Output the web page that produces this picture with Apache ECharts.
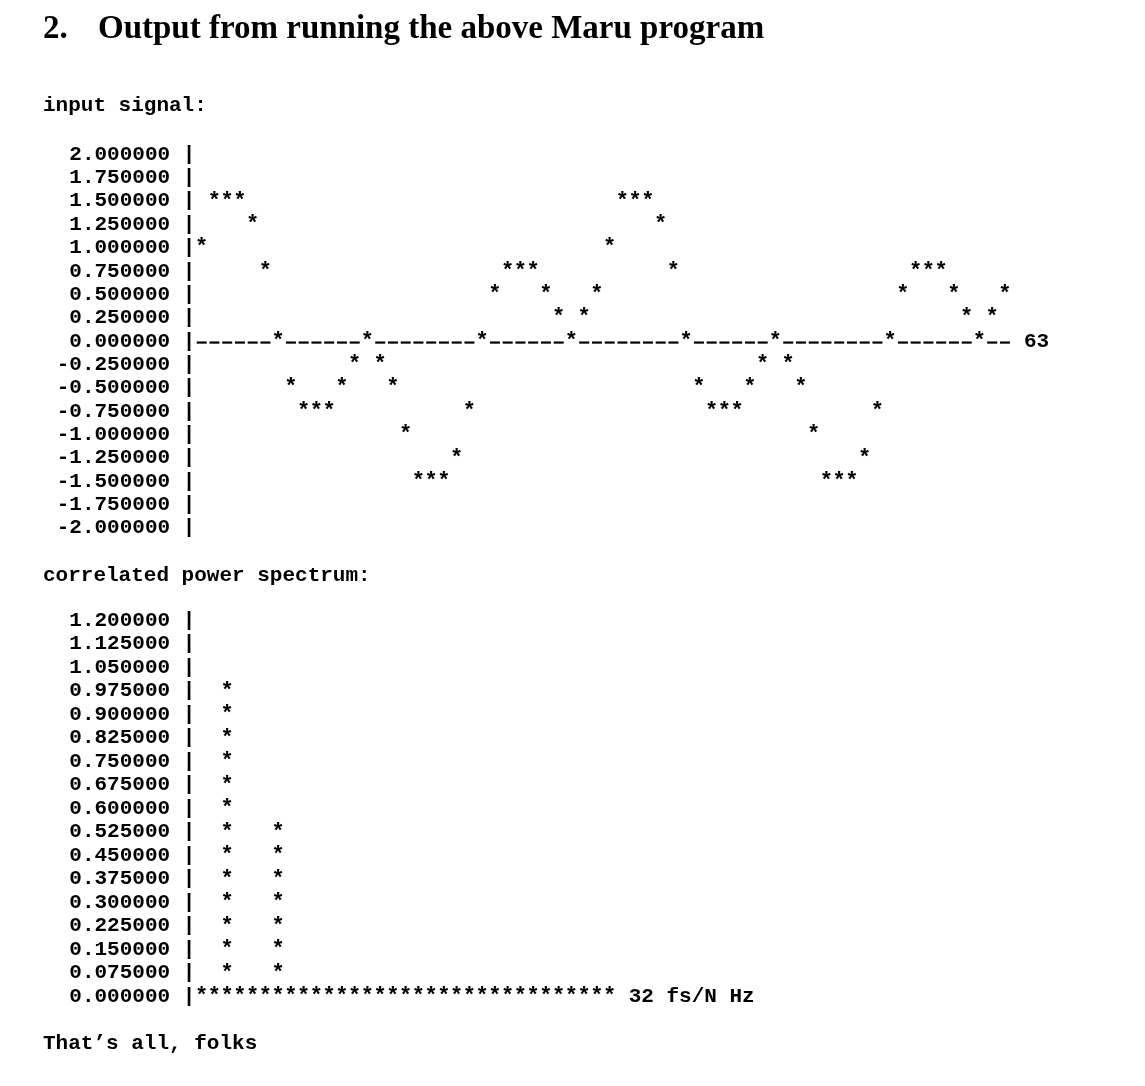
<!DOCTYPE html>
<html>
<head>
<meta charset="utf-8">
<script src="https://cdn.jsdelivr.net/npm/echarts@6/dist/echarts.min.js"></script>
<style>
html,body{margin:0;padding:0;background:#fff;}
#chart{width:1145px;height:1086px;}
</style>
</head>
<body>
<div id="chart"></div>
<script>
// ---- data ----
const headingNumber = '2.';
const headingText = 'Output from running the above Maru program';
const signalTitle = 'input signal:';
const spectrumTitle = 'correlated power spectrum:';
const footerText = 'That\u2019s all, folks';

// input signal samples 0..63 (quantised to the 0.25 rows of the plot)
const signalValues = [
  1.0, 1.5, 1.5, 1.5, 1.25, 0.75, 0, -0.5, -0.75, -0.75,
  -0.75, -0.5, -0.25, 0, -0.25, -0.5, -1.0, -1.5, -1.5, -1.5,
  -1.25, -0.75, 0, 0.5, 0.75, 0.75, 0.75, 0.5, 0.25, 0,
  0.25, 0.5, 1.0, 1.5, 1.5, 1.5, 1.25, 0.75, 0, -0.5,
  -0.75, -0.75, -0.75, -0.5, -0.25, 0, -0.25, -0.5, -1.0, -1.5,
  -1.5, -1.5, -1.25, -0.75, 0, 0.5, 0.75, 0.75, 0.75, 0.5,
  0.25, 0, 0.25, 0.5
];
const signalYMin = -2, signalYMax = 2, signalYStep = 0.25;

// correlated power spectrum bins 0..32
const spectrumValues = [
  0, 0, 1.0, 0, 0, 0, 0.53, 0, 0, 0,
  0, 0, 0, 0, 0, 0, 0, 0, 0, 0,
  0, 0, 0, 0, 0, 0, 0, 0, 0, 0,
  0, 0, 0
];
const spectrumYMin = 0, spectrumYMax = 1.2, spectrumYStep = 0.075;
const spectrumUnit = 'fs/N Hz';

// ---- styling ----
const MONO = '"Liberation Mono", "DejaVu Sans Mono", monospace';
const FS = 21;
const CELL = 12.75;
const monoFont = 'bold ' + FS + 'px ' + MONO;
const starFont = 'bold 22px ' + MONO;

const chart = echarts.init(document.getElementById('chart'), null, {renderer: 'canvas'});

function yAxisCfg(idx, min, max, step) {
  return {
    type: 'value', gridIndex: idx, min: min, max: max, interval: step,
    axisLine: {show: false}, axisTick: {show: false}, splitLine: {show: false},
    axisLabel: {
      show: true, margin: 6.4, color: '#000', fontFamily: MONO, fontWeight: 'bold', fontSize: FS,
      showMinLabel: true, showMaxLabel: true,
      formatter: v => v.toFixed(6) + ' |'
    }
  };
}

function starText(p) {
  return {type: 'text', x: p[0], y: p[1],
    style: {text: '*', font: starFont, fill: '#000', align: 'center', verticalAlign: 'middle'}};
}

const signalData = signalValues.map((v, i) => [i, v]);
const spectrumData = spectrumValues.map((v, i) => [i, v]);

const option = {
  animation: false,
  backgroundColor: '#fff',
  graphic: [
    {type: 'text', left: 43, top: 13, style: {text: headingNumber, font: 'bold 33px "Liberation Serif", serif', fill: '#000'}},
    {type: 'text', left: 98, top: 13, style: {text: headingText, font: 'bold 33px "Liberation Serif", serif', fill: '#000'}},
    {type: 'text', left: 43, top: 95, style: {text: signalTitle, font: monoFont, fill: '#000'}},
    {type: 'text', left: 43, top: 565, style: {text: spectrumTitle, font: monoFont, fill: '#000'}},
    {type: 'text', left: 43, top: 1033, style: {text: footerText, font: monoFont, fill: '#000'}}
  ],
  grid: [
    {left: 201.7, width: CELL * (signalValues.length - 1), top: 154.5, height: 373.5, containLabel: false},
    {left: 201.7, width: CELL * (spectrumValues.length - 1), top: 620.5, height: 376, containLabel: false}
  ],
  xAxis: [
    {type: 'value', gridIndex: 0, min: 0, max: signalValues.length - 1,
     axisLine: {show: false, onZero: true}, axisTick: {show: false}, axisLabel: {show: false}, splitLine: {show: false},
     name: String(signalValues.length - 1), nameLocation: 'end', nameGap: 19,
     nameTextStyle: {color: '#000', fontFamily: MONO, fontWeight: 'bold', fontSize: FS, align: 'left', verticalAlign: 'middle'}},
    {type: 'value', gridIndex: 1, min: 0, max: spectrumValues.length - 1,
     axisLine: {show: false, onZero: true}, axisTick: {show: false}, axisLabel: {show: false}, splitLine: {show: false},
     name: String(spectrumValues.length - 1) + ' ' + spectrumUnit, nameLocation: 'end', nameGap: 19,
     nameTextStyle: {color: '#000', fontFamily: MONO, fontWeight: 'bold', fontSize: FS, align: 'left', verticalAlign: 'middle'}}
  ],
  yAxis: [
    yAxisCfg(0, signalYMin, signalYMax, signalYStep),
    yAxisCfg(1, spectrumYMin, spectrumYMax, spectrumYStep)
  ],
  series: [
    {
      type: 'custom', name: 'input signal', xAxisIndex: 0, yAxisIndex: 0,
      data: signalData,
      renderItem: function (params, api) {
        const x = api.value(0), y = api.value(1);
        const p = api.coord([x, y]);
        const children = [];
        if (y !== 0) {
          const z = api.coord([x, 0]);
          children.push({type: 'rect', shape: {x: z[0] - 5, y: z[1] + 0.2, width: 10, height: 2.2}, style: {fill: '#000'}});
        }
        children.push(starText(p));
        return {type: 'group', children: children};
      }
    },
    {
      type: 'custom', name: 'correlated power spectrum', xAxisIndex: 1, yAxisIndex: 1,
      data: spectrumData,
      renderItem: function (params, api) {
        const x = api.value(0), y = api.value(1);
        const n = Math.floor(y / spectrumYStep + 1e-9);
        const children = [];
        for (let k = 0; k <= n; k++) {
          children.push(starText(api.coord([x, k * spectrumYStep])));
        }
        return {type: 'group', children: children};
      }
    }
  ]
};
chart.setOption(option);
</script>
</body>
</html>
